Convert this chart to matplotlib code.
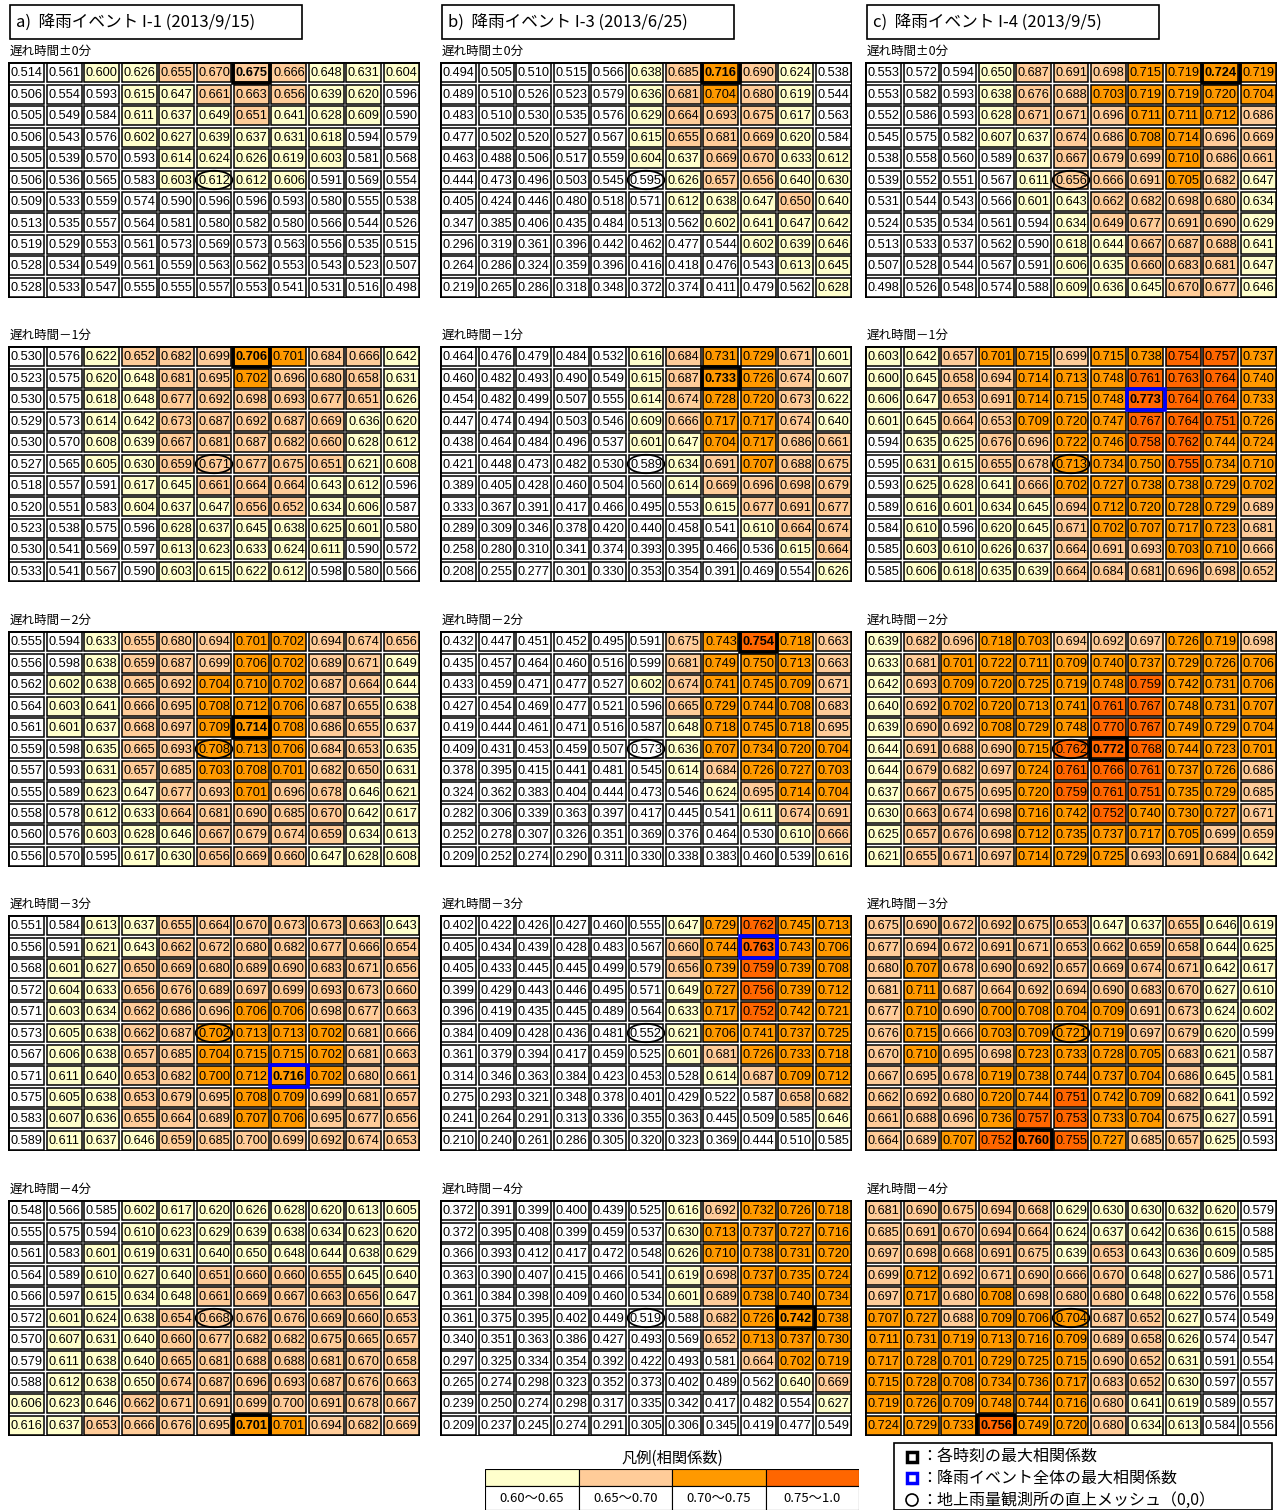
import matplotlib.pyplot as plt
import numpy as np
from matplotlib.patches import Rectangle, Ellipse

plt.rcParams['font.family'] = ['Noto Sans CJK JP', 'DejaVu Sans']

W, H = 1282, 1510

# ---- data: correlation coefficients, 11x11 meshes (row 5 / col 5 = gauge mesh (0,0))
event_titles = ['a)  降雨イベント I-1 (2013/9/15)',
                'b)  降雨イベント I-3 (2013/6/25)',
                'c)  降雨イベント I-4 (2013/9/5)']
lag_labels = ['遅れ時間±0分', '遅れ時間－1分', '遅れ時間－2分', '遅れ時間－3分', '遅れ時間－4分']

i1_lag0 = [
    [0.514, 0.561, 0.600, 0.626, 0.655, 0.670, 0.675, 0.666, 0.648, 0.631, 0.604],
    [0.506, 0.554, 0.593, 0.615, 0.647, 0.661, 0.663, 0.656, 0.639, 0.620, 0.596],
    [0.505, 0.549, 0.584, 0.611, 0.637, 0.649, 0.651, 0.641, 0.628, 0.609, 0.590],
    [0.506, 0.543, 0.576, 0.602, 0.627, 0.639, 0.637, 0.631, 0.618, 0.594, 0.579],
    [0.505, 0.539, 0.570, 0.593, 0.614, 0.624, 0.626, 0.619, 0.603, 0.581, 0.568],
    [0.506, 0.536, 0.565, 0.583, 0.603, 0.612, 0.612, 0.606, 0.591, 0.569, 0.554],
    [0.509, 0.533, 0.559, 0.574, 0.590, 0.596, 0.596, 0.593, 0.580, 0.555, 0.538],
    [0.513, 0.535, 0.557, 0.564, 0.581, 0.580, 0.582, 0.580, 0.566, 0.544, 0.526],
    [0.519, 0.529, 0.553, 0.561, 0.573, 0.569, 0.573, 0.563, 0.556, 0.535, 0.515],
    [0.528, 0.534, 0.549, 0.561, 0.559, 0.563, 0.562, 0.553, 0.543, 0.523, 0.507],
    [0.528, 0.533, 0.547, 0.555, 0.555, 0.557, 0.553, 0.541, 0.531, 0.516, 0.498]]
i1_lag1 = [
    [0.530, 0.576, 0.622, 0.652, 0.682, 0.699, 0.706, 0.701, 0.684, 0.666, 0.642],
    [0.523, 0.575, 0.620, 0.648, 0.681, 0.695, 0.702, 0.696, 0.680, 0.658, 0.631],
    [0.530, 0.575, 0.618, 0.648, 0.677, 0.692, 0.698, 0.693, 0.677, 0.651, 0.626],
    [0.529, 0.573, 0.614, 0.642, 0.673, 0.687, 0.692, 0.687, 0.669, 0.636, 0.620],
    [0.530, 0.570, 0.608, 0.639, 0.667, 0.681, 0.687, 0.682, 0.660, 0.628, 0.612],
    [0.527, 0.565, 0.605, 0.630, 0.659, 0.671, 0.677, 0.675, 0.651, 0.621, 0.608],
    [0.518, 0.557, 0.591, 0.617, 0.645, 0.661, 0.664, 0.664, 0.643, 0.612, 0.596],
    [0.520, 0.551, 0.583, 0.604, 0.637, 0.647, 0.656, 0.652, 0.634, 0.606, 0.587],
    [0.523, 0.538, 0.575, 0.596, 0.628, 0.637, 0.645, 0.638, 0.625, 0.601, 0.580],
    [0.530, 0.541, 0.569, 0.597, 0.613, 0.623, 0.633, 0.624, 0.611, 0.590, 0.572],
    [0.533, 0.541, 0.567, 0.590, 0.603, 0.615, 0.622, 0.612, 0.598, 0.580, 0.566]]
i1_lag2 = [
    [0.555, 0.594, 0.633, 0.655, 0.680, 0.694, 0.701, 0.702, 0.694, 0.674, 0.656],
    [0.556, 0.598, 0.638, 0.659, 0.687, 0.699, 0.706, 0.702, 0.689, 0.671, 0.649],
    [0.562, 0.602, 0.638, 0.665, 0.692, 0.704, 0.710, 0.702, 0.687, 0.664, 0.644],
    [0.564, 0.603, 0.641, 0.666, 0.695, 0.708, 0.712, 0.706, 0.687, 0.655, 0.638],
    [0.561, 0.601, 0.637, 0.668, 0.697, 0.709, 0.714, 0.708, 0.686, 0.655, 0.637],
    [0.559, 0.598, 0.635, 0.665, 0.693, 0.708, 0.713, 0.706, 0.684, 0.653, 0.635],
    [0.557, 0.593, 0.631, 0.657, 0.685, 0.703, 0.708, 0.701, 0.682, 0.650, 0.631],
    [0.555, 0.589, 0.623, 0.647, 0.677, 0.693, 0.701, 0.696, 0.678, 0.646, 0.621],
    [0.558, 0.578, 0.612, 0.633, 0.664, 0.681, 0.690, 0.685, 0.670, 0.642, 0.617],
    [0.560, 0.576, 0.603, 0.628, 0.646, 0.667, 0.679, 0.674, 0.659, 0.634, 0.613],
    [0.556, 0.570, 0.595, 0.617, 0.630, 0.656, 0.669, 0.660, 0.647, 0.628, 0.608]]
i1_lag3 = [
    [0.551, 0.584, 0.613, 0.637, 0.655, 0.664, 0.670, 0.673, 0.673, 0.663, 0.643],
    [0.556, 0.591, 0.621, 0.643, 0.662, 0.672, 0.680, 0.682, 0.677, 0.666, 0.654],
    [0.568, 0.601, 0.627, 0.650, 0.669, 0.680, 0.689, 0.690, 0.683, 0.671, 0.656],
    [0.572, 0.604, 0.633, 0.656, 0.676, 0.689, 0.697, 0.699, 0.693, 0.673, 0.660],
    [0.571, 0.603, 0.634, 0.662, 0.686, 0.696, 0.706, 0.706, 0.698, 0.677, 0.663],
    [0.573, 0.605, 0.638, 0.662, 0.687, 0.702, 0.713, 0.713, 0.702, 0.681, 0.666],
    [0.567, 0.606, 0.638, 0.657, 0.685, 0.704, 0.715, 0.715, 0.702, 0.681, 0.663],
    [0.571, 0.611, 0.640, 0.653, 0.682, 0.700, 0.712, 0.716, 0.702, 0.680, 0.661],
    [0.575, 0.605, 0.638, 0.653, 0.679, 0.695, 0.708, 0.709, 0.699, 0.681, 0.657],
    [0.583, 0.607, 0.636, 0.655, 0.664, 0.689, 0.707, 0.706, 0.695, 0.677, 0.656],
    [0.589, 0.611, 0.637, 0.646, 0.659, 0.685, 0.700, 0.699, 0.692, 0.674, 0.653]]
i1_lag4 = [
    [0.548, 0.566, 0.585, 0.602, 0.617, 0.620, 0.626, 0.628, 0.620, 0.613, 0.605],
    [0.555, 0.575, 0.594, 0.610, 0.623, 0.629, 0.639, 0.638, 0.634, 0.623, 0.620],
    [0.561, 0.583, 0.601, 0.619, 0.631, 0.640, 0.650, 0.648, 0.644, 0.638, 0.629],
    [0.564, 0.589, 0.610, 0.627, 0.640, 0.651, 0.660, 0.660, 0.655, 0.645, 0.640],
    [0.566, 0.597, 0.615, 0.634, 0.648, 0.661, 0.669, 0.667, 0.663, 0.656, 0.647],
    [0.572, 0.601, 0.624, 0.638, 0.654, 0.668, 0.676, 0.676, 0.669, 0.660, 0.653],
    [0.570, 0.607, 0.631, 0.640, 0.660, 0.677, 0.682, 0.682, 0.675, 0.665, 0.657],
    [0.579, 0.611, 0.638, 0.640, 0.665, 0.681, 0.688, 0.688, 0.681, 0.670, 0.658],
    [0.588, 0.612, 0.638, 0.650, 0.674, 0.687, 0.696, 0.693, 0.687, 0.676, 0.663],
    [0.606, 0.623, 0.646, 0.662, 0.671, 0.691, 0.699, 0.700, 0.691, 0.678, 0.667],
    [0.616, 0.637, 0.653, 0.666, 0.676, 0.695, 0.701, 0.701, 0.694, 0.682, 0.669]]

i3_lag0 = [
    [0.494, 0.505, 0.510, 0.515, 0.566, 0.638, 0.685, 0.716, 0.690, 0.624, 0.538],
    [0.489, 0.510, 0.526, 0.523, 0.579, 0.636, 0.681, 0.704, 0.680, 0.619, 0.544],
    [0.483, 0.510, 0.530, 0.535, 0.576, 0.629, 0.664, 0.693, 0.675, 0.617, 0.563],
    [0.477, 0.502, 0.520, 0.527, 0.567, 0.615, 0.655, 0.681, 0.669, 0.620, 0.584],
    [0.463, 0.488, 0.506, 0.517, 0.559, 0.604, 0.637, 0.669, 0.670, 0.633, 0.612],
    [0.444, 0.473, 0.496, 0.503, 0.545, 0.595, 0.626, 0.657, 0.656, 0.640, 0.630],
    [0.405, 0.424, 0.446, 0.480, 0.518, 0.571, 0.612, 0.638, 0.647, 0.650, 0.640],
    [0.347, 0.385, 0.406, 0.435, 0.484, 0.513, 0.562, 0.602, 0.641, 0.647, 0.642],
    [0.296, 0.319, 0.361, 0.396, 0.442, 0.462, 0.477, 0.544, 0.602, 0.639, 0.646],
    [0.264, 0.286, 0.324, 0.359, 0.396, 0.416, 0.418, 0.476, 0.543, 0.613, 0.645],
    [0.219, 0.265, 0.286, 0.318, 0.348, 0.372, 0.374, 0.411, 0.479, 0.562, 0.628]]
i3_lag1 = [
    [0.464, 0.476, 0.479, 0.484, 0.532, 0.616, 0.684, 0.731, 0.729, 0.671, 0.601],
    [0.460, 0.482, 0.493, 0.490, 0.549, 0.615, 0.687, 0.733, 0.726, 0.674, 0.607],
    [0.454, 0.482, 0.499, 0.507, 0.555, 0.614, 0.674, 0.728, 0.720, 0.673, 0.622],
    [0.447, 0.474, 0.494, 0.503, 0.546, 0.609, 0.666, 0.717, 0.717, 0.674, 0.640],
    [0.438, 0.464, 0.484, 0.496, 0.537, 0.601, 0.647, 0.704, 0.717, 0.686, 0.661],
    [0.421, 0.448, 0.473, 0.482, 0.530, 0.589, 0.634, 0.691, 0.707, 0.688, 0.675],
    [0.389, 0.405, 0.428, 0.460, 0.504, 0.560, 0.614, 0.669, 0.696, 0.698, 0.679],
    [0.333, 0.367, 0.391, 0.417, 0.466, 0.495, 0.553, 0.615, 0.677, 0.691, 0.677],
    [0.289, 0.309, 0.346, 0.378, 0.420, 0.440, 0.458, 0.541, 0.610, 0.664, 0.674],
    [0.258, 0.280, 0.310, 0.341, 0.374, 0.393, 0.395, 0.466, 0.536, 0.615, 0.664],
    [0.208, 0.255, 0.277, 0.301, 0.330, 0.353, 0.354, 0.391, 0.469, 0.554, 0.626]]
i3_lag2 = [
    [0.432, 0.447, 0.451, 0.452, 0.495, 0.591, 0.675, 0.743, 0.754, 0.718, 0.663],
    [0.435, 0.457, 0.464, 0.460, 0.516, 0.599, 0.681, 0.749, 0.750, 0.713, 0.663],
    [0.433, 0.459, 0.471, 0.477, 0.527, 0.602, 0.674, 0.741, 0.745, 0.709, 0.671],
    [0.427, 0.454, 0.469, 0.477, 0.521, 0.596, 0.665, 0.729, 0.744, 0.708, 0.683],
    [0.419, 0.444, 0.461, 0.471, 0.516, 0.587, 0.648, 0.718, 0.745, 0.718, 0.695],
    [0.409, 0.431, 0.453, 0.459, 0.507, 0.573, 0.636, 0.707, 0.734, 0.720, 0.704],
    [0.378, 0.395, 0.415, 0.441, 0.481, 0.545, 0.614, 0.684, 0.726, 0.727, 0.703],
    [0.324, 0.362, 0.383, 0.404, 0.444, 0.473, 0.546, 0.624, 0.695, 0.714, 0.704],
    [0.282, 0.306, 0.339, 0.363, 0.397, 0.417, 0.445, 0.541, 0.611, 0.674, 0.691],
    [0.252, 0.278, 0.307, 0.326, 0.351, 0.369, 0.376, 0.464, 0.530, 0.610, 0.666],
    [0.209, 0.252, 0.274, 0.290, 0.311, 0.330, 0.338, 0.383, 0.460, 0.539, 0.616]]
i3_lag3 = [
    [0.402, 0.422, 0.426, 0.427, 0.460, 0.555, 0.647, 0.729, 0.762, 0.745, 0.713],
    [0.405, 0.434, 0.439, 0.428, 0.483, 0.567, 0.660, 0.744, 0.763, 0.743, 0.706],
    [0.405, 0.433, 0.445, 0.445, 0.499, 0.579, 0.656, 0.739, 0.759, 0.739, 0.708],
    [0.399, 0.429, 0.443, 0.446, 0.495, 0.571, 0.649, 0.727, 0.756, 0.739, 0.712],
    [0.396, 0.419, 0.435, 0.445, 0.489, 0.564, 0.633, 0.717, 0.752, 0.742, 0.721],
    [0.384, 0.409, 0.428, 0.436, 0.481, 0.552, 0.621, 0.706, 0.741, 0.737, 0.725],
    [0.361, 0.379, 0.394, 0.417, 0.459, 0.525, 0.601, 0.681, 0.726, 0.733, 0.718],
    [0.314, 0.346, 0.363, 0.384, 0.423, 0.453, 0.528, 0.614, 0.687, 0.709, 0.712],
    [0.275, 0.293, 0.321, 0.348, 0.378, 0.401, 0.429, 0.522, 0.587, 0.658, 0.682],
    [0.241, 0.264, 0.291, 0.313, 0.336, 0.355, 0.363, 0.445, 0.509, 0.585, 0.646],
    [0.210, 0.240, 0.261, 0.286, 0.305, 0.320, 0.323, 0.369, 0.444, 0.510, 0.585]]
i3_lag4 = [
    [0.372, 0.391, 0.399, 0.400, 0.439, 0.525, 0.616, 0.692, 0.732, 0.726, 0.718],
    [0.372, 0.395, 0.408, 0.399, 0.459, 0.537, 0.630, 0.713, 0.737, 0.727, 0.716],
    [0.366, 0.393, 0.412, 0.417, 0.472, 0.548, 0.626, 0.710, 0.738, 0.731, 0.720],
    [0.363, 0.390, 0.407, 0.415, 0.466, 0.541, 0.619, 0.698, 0.737, 0.735, 0.724],
    [0.361, 0.384, 0.398, 0.409, 0.460, 0.534, 0.601, 0.689, 0.738, 0.740, 0.734],
    [0.361, 0.375, 0.395, 0.402, 0.449, 0.519, 0.588, 0.682, 0.726, 0.742, 0.738],
    [0.340, 0.351, 0.363, 0.386, 0.427, 0.493, 0.569, 0.652, 0.713, 0.737, 0.730],
    [0.297, 0.325, 0.334, 0.354, 0.392, 0.422, 0.493, 0.581, 0.664, 0.702, 0.719],
    [0.265, 0.274, 0.298, 0.323, 0.352, 0.373, 0.402, 0.489, 0.562, 0.640, 0.669],
    [0.239, 0.250, 0.274, 0.298, 0.317, 0.335, 0.342, 0.417, 0.482, 0.554, 0.627],
    [0.209, 0.237, 0.245, 0.274, 0.291, 0.305, 0.306, 0.345, 0.419, 0.477, 0.549]]

i4_lag0 = [
    [0.553, 0.572, 0.594, 0.650, 0.687, 0.691, 0.698, 0.715, 0.719, 0.724, 0.719],
    [0.553, 0.582, 0.593, 0.638, 0.676, 0.688, 0.703, 0.719, 0.719, 0.720, 0.704],
    [0.552, 0.586, 0.593, 0.628, 0.671, 0.671, 0.696, 0.711, 0.711, 0.712, 0.686],
    [0.545, 0.575, 0.582, 0.607, 0.637, 0.674, 0.686, 0.708, 0.714, 0.696, 0.669],
    [0.538, 0.558, 0.560, 0.589, 0.637, 0.667, 0.679, 0.699, 0.710, 0.686, 0.661],
    [0.539, 0.552, 0.551, 0.567, 0.611, 0.656, 0.666, 0.691, 0.705, 0.682, 0.647],
    [0.531, 0.544, 0.543, 0.566, 0.601, 0.643, 0.662, 0.682, 0.698, 0.680, 0.634],
    [0.524, 0.535, 0.534, 0.561, 0.594, 0.634, 0.649, 0.677, 0.691, 0.690, 0.629],
    [0.513, 0.533, 0.537, 0.562, 0.590, 0.618, 0.644, 0.667, 0.687, 0.688, 0.641],
    [0.507, 0.528, 0.544, 0.567, 0.591, 0.606, 0.635, 0.660, 0.683, 0.681, 0.647],
    [0.498, 0.526, 0.548, 0.574, 0.588, 0.609, 0.636, 0.645, 0.670, 0.677, 0.646]]
i4_lag1 = [
    [0.603, 0.642, 0.657, 0.701, 0.715, 0.699, 0.715, 0.738, 0.754, 0.757, 0.737],
    [0.600, 0.645, 0.658, 0.694, 0.714, 0.713, 0.748, 0.761, 0.763, 0.764, 0.740],
    [0.606, 0.647, 0.653, 0.691, 0.714, 0.715, 0.748, 0.773, 0.764, 0.764, 0.733],
    [0.601, 0.645, 0.664, 0.653, 0.709, 0.720, 0.747, 0.767, 0.764, 0.751, 0.726],
    [0.594, 0.635, 0.625, 0.676, 0.696, 0.722, 0.746, 0.758, 0.762, 0.744, 0.724],
    [0.595, 0.631, 0.615, 0.655, 0.678, 0.713, 0.734, 0.750, 0.755, 0.734, 0.710],
    [0.593, 0.625, 0.628, 0.641, 0.666, 0.702, 0.727, 0.738, 0.738, 0.729, 0.702],
    [0.589, 0.616, 0.601, 0.634, 0.645, 0.694, 0.712, 0.720, 0.728, 0.729, 0.689],
    [0.584, 0.610, 0.596, 0.620, 0.645, 0.671, 0.702, 0.707, 0.717, 0.723, 0.681],
    [0.585, 0.603, 0.610, 0.626, 0.637, 0.664, 0.691, 0.693, 0.703, 0.710, 0.666],
    [0.585, 0.606, 0.618, 0.635, 0.639, 0.664, 0.684, 0.681, 0.696, 0.698, 0.652]]
i4_lag2 = [
    [0.639, 0.682, 0.696, 0.718, 0.703, 0.694, 0.692, 0.697, 0.726, 0.719, 0.698],
    [0.633, 0.681, 0.701, 0.722, 0.711, 0.709, 0.740, 0.737, 0.729, 0.726, 0.706],
    [0.642, 0.693, 0.709, 0.720, 0.725, 0.719, 0.748, 0.759, 0.742, 0.731, 0.706],
    [0.640, 0.692, 0.702, 0.720, 0.713, 0.741, 0.761, 0.767, 0.748, 0.731, 0.707],
    [0.639, 0.690, 0.692, 0.708, 0.729, 0.748, 0.770, 0.767, 0.749, 0.729, 0.704],
    [0.644, 0.691, 0.688, 0.690, 0.715, 0.762, 0.772, 0.768, 0.744, 0.723, 0.701],
    [0.644, 0.679, 0.682, 0.697, 0.724, 0.761, 0.766, 0.761, 0.737, 0.726, 0.686],
    [0.637, 0.667, 0.675, 0.695, 0.720, 0.759, 0.761, 0.751, 0.735, 0.729, 0.685],
    [0.630, 0.663, 0.674, 0.698, 0.716, 0.742, 0.752, 0.740, 0.730, 0.727, 0.671],
    [0.625, 0.657, 0.676, 0.698, 0.712, 0.735, 0.737, 0.717, 0.705, 0.699, 0.659],
    [0.621, 0.655, 0.671, 0.697, 0.714, 0.729, 0.725, 0.693, 0.691, 0.684, 0.642]]
i4_lag3 = [
    [0.675, 0.690, 0.672, 0.692, 0.675, 0.653, 0.647, 0.637, 0.655, 0.646, 0.619],
    [0.677, 0.694, 0.672, 0.691, 0.671, 0.653, 0.662, 0.659, 0.658, 0.644, 0.625],
    [0.680, 0.707, 0.678, 0.690, 0.692, 0.657, 0.669, 0.674, 0.671, 0.642, 0.617],
    [0.681, 0.711, 0.687, 0.664, 0.692, 0.694, 0.690, 0.683, 0.670, 0.627, 0.610],
    [0.677, 0.710, 0.690, 0.700, 0.708, 0.704, 0.709, 0.691, 0.673, 0.624, 0.602],
    [0.676, 0.715, 0.666, 0.703, 0.709, 0.721, 0.719, 0.697, 0.679, 0.620, 0.599],
    [0.670, 0.710, 0.695, 0.698, 0.723, 0.733, 0.728, 0.705, 0.683, 0.621, 0.587],
    [0.667, 0.695, 0.678, 0.719, 0.738, 0.744, 0.737, 0.704, 0.686, 0.645, 0.581],
    [0.662, 0.692, 0.680, 0.720, 0.744, 0.751, 0.742, 0.709, 0.682, 0.641, 0.592],
    [0.661, 0.688, 0.696, 0.736, 0.757, 0.753, 0.733, 0.704, 0.675, 0.627, 0.591],
    [0.664, 0.689, 0.707, 0.752, 0.760, 0.755, 0.727, 0.685, 0.657, 0.625, 0.593]]
i4_lag4 = [
    [0.681, 0.690, 0.675, 0.694, 0.668, 0.629, 0.630, 0.630, 0.632, 0.620, 0.579],
    [0.685, 0.691, 0.670, 0.694, 0.664, 0.624, 0.637, 0.642, 0.636, 0.615, 0.588],
    [0.697, 0.698, 0.668, 0.691, 0.675, 0.639, 0.653, 0.643, 0.636, 0.609, 0.585],
    [0.699, 0.712, 0.692, 0.671, 0.690, 0.666, 0.670, 0.648, 0.627, 0.586, 0.571],
    [0.697, 0.717, 0.680, 0.708, 0.698, 0.680, 0.680, 0.648, 0.622, 0.576, 0.558],
    [0.707, 0.727, 0.688, 0.709, 0.706, 0.704, 0.687, 0.652, 0.627, 0.574, 0.549],
    [0.711, 0.731, 0.719, 0.713, 0.716, 0.709, 0.689, 0.658, 0.626, 0.574, 0.547],
    [0.717, 0.728, 0.701, 0.729, 0.725, 0.715, 0.690, 0.652, 0.631, 0.591, 0.554],
    [0.715, 0.728, 0.708, 0.734, 0.736, 0.717, 0.683, 0.652, 0.630, 0.597, 0.557],
    [0.719, 0.726, 0.709, 0.748, 0.744, 0.716, 0.680, 0.641, 0.619, 0.589, 0.557],
    [0.724, 0.729, 0.733, 0.756, 0.749, 0.720, 0.680, 0.634, 0.613, 0.584, 0.556]]

events = [[i1_lag0, i1_lag1, i1_lag2, i1_lag3, i1_lag4],
          [i3_lag0, i3_lag1, i3_lag2, i3_lag3, i3_lag4],
          [i4_lag0, i4_lag1, i4_lag2, i4_lag3, i4_lag4]]

# colour classes (source shaded on unrounded values, so a few boundary cells differ)
class_edges = [0.5995, 0.6495, 0.6995, 0.7495]
class_colors = ['#FFFFFF', '#FFFFCC', '#FFCC99', '#FF9900', '#FF6600']
class_labels = ['0.60～0.65', '0.65～0.70', '0.70～0.75', '0.75～1.0']
# (event, lag, row, col, class)
class_fix = [(0, 3, 10, 6, 2), (0, 4, 2, 6, 1), (0, 4, 8, 3, 1), (0, 4, 9, 7, 2),
             (1, 2, 1, 8, 3), (2, 0, 0, 3, 1), (2, 0, 7, 6, 2), (2, 1, 5, 7, 3)]

legend_items = ['：各時刻の最大相関係数', '：降雨イベント全体の最大相関係数',
                '：地上雨量観測所の直上メッシュ（0,0）']

# ---- layout (pixels)
col_x = [8, 440, 865]
row_y = [62, 346, 631, 915, 1200]
gw, gh = 412, 236
center = 5


def fig_rect(x, y, w, h):
    return [x / W, 1 - (y + h) / H, w / W, h / H]


fig = plt.figure(figsize=(W / 100, H / 100), dpi=100)

for e, panels in enumerate(events):
    arrs = [np.array(p) for p in panels]
    best_lag = int(np.argmax([a.max() for a in arrs]))
    # event title box
    fig.text((col_x[e] + 8) / W, 1 - 22 / H, event_titles[e], fontsize=12,
             va='center', ha='left')
    fig.add_artist(Rectangle(((col_x[e] + 2) / W, 1 - 39 / H), 292 / W, 34 / H,
                             transform=fig.transFigure, fill=False, ec='black', lw=1.2))
    for k, a in enumerate(arrs):
        cls = np.digitize(a, class_edges)
        for ev, lg, r, c, v in class_fix:
            if ev == e and lg == k:
                cls[r, c] = v
        fig.text((col_x[e] + 2) / W, 1 - (row_y[k] - 11) / H, lag_labels[k],
                 fontsize=9, va='center', ha='left')
        ax = fig.add_axes(fig_rect(col_x[e], row_y[k], gw, gh))
        ax.set_xlim(0, 11)
        ax.set_ylim(11, 0)
        ax.axis('off')
        rmax, cmax = np.unravel_index(np.argmax(a), a.shape)
        for r in range(11):
            for c in range(11):
                ax.add_patch(Rectangle((c + 0.035, r + 0.06), 0.93, 0.88,
                                       fc=class_colors[cls[r, c]], ec='black', lw=1.1))
                bold = (r == rmax and c == cmax)
                ax.text(c + 0.5, r + 0.53, f'{a[r, c]:.3f}', ha='center', va='center',
                        fontsize=9.2, family='Liberation Sans',
                        fontweight='bold' if bold else 'normal')
        ax.add_patch(Rectangle((0, 0), 11, 11, fill=False, ec='black', lw=2.0))
        ax.add_patch(Ellipse((center + 0.5, center + 0.5), 0.98, 0.86, fill=False,
                             ec='black', lw=1.3, zorder=5))
        edge = 'blue' if k == best_lag else 'black'
        ax.add_patch(Rectangle((cmax, rmax), 1, 1, fill=False, ec=edge, lw=2.6, zorder=6))

# ---- colour legend
fig.text(672 / W, 1 - 1458 / H, '凡例(相関係数)', fontsize=11, ha='center', va='center')
lax = fig.add_axes(fig_rect(485, 1469, 374, 41))
lax.set_xlim(0, 4)
lax.set_ylim(2, 0)
lax.axis('off')
for i, lab in enumerate(class_labels):
    lax.add_patch(Rectangle((i, 0), 1, 0.85, fc=class_colors[i + 1], ec='black', lw=0.8))
    lax.add_patch(Rectangle((i, 0.85), 1, 1.15, fc='white', ec='black', lw=0.8))
    lax.text(i + 0.5, 1.45, lab, ha='center', va='center', fontsize=9.5)

# ---- marker legend
fig.add_artist(Rectangle((894 / W, 0.0), 378 / W, 67 / H, transform=fig.transFigure,
                         fill=False, ec='black', lw=1.2))
mk_y = [1457, 1478, 1500]
mk_x = 912
fig.add_artist(Rectangle(((mk_x - 5) / W, 1 - (mk_y[0] + 5) / H), 10 / W, 10 / H,
                         transform=fig.transFigure, fill=False, ec='black', lw=2.5))
fig.add_artist(Rectangle(((mk_x - 5) / W, 1 - (mk_y[1] + 5) / H), 10 / W, 10 / H,
                         transform=fig.transFigure, fill=False, ec='blue', lw=2.5))
fig.add_artist(Ellipse((mk_x / W, 1 - mk_y[2] / H), 12 / W, 12 / H,
                       transform=fig.transFigure, fill=False, ec='black', lw=1.2))
for y, lab in zip(mk_y, legend_items):
    fig.text((mk_x + 9) / W, 1 - y / H, lab, fontsize=11.5, ha='left', va='center')

fig.savefig('out.png', dpi=100)
